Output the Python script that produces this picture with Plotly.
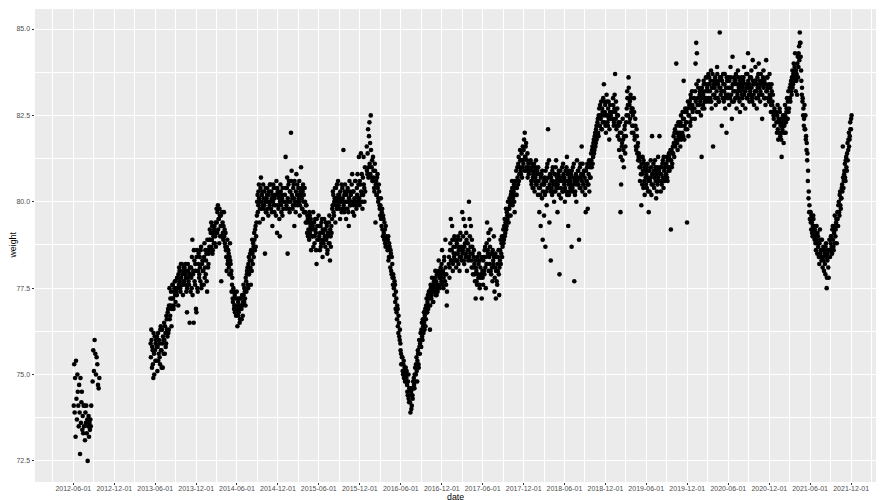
import pandas as pd
import plotly.graph_objects as go

# ---------------- data (weights) ----------------
# each block: start date, spacing in days, weights in kg (one list row ~ one month)
start_2012a, step_2012a = "2012-06-03", 2
w2012a = [74.1, 75.3, 73.9, 74.9, 73.2, 75.4, 74.3, 73.7, 75.0, 74.5,
          74.1, 73.5, 74.7, 73.9, 72.7, 74.9, 73.6, 74.2, 74.5, 73.4,
          73.8, 73.3, 74.1, 73.5, 74.1, 73.1, 73.9, 73.6, 74.1, 73.3,
          73.7, 72.5, 73.5, 73.8, 73.2, 73.6, 73.4, 73.7, 73.5, 74.1]

start_2012b, step_2012b = "2012-08-26", 3
w2012b = [74.8, 75.7, 75.1, 76.0, 75.6, 75.0, 75.5, 75.3, 74.7, 74.6, 74.9]

start_2013, step_2013 = "2013-05-12", 3
w2013 = [75.9, 76.3, 75.2, 75.7, 74.9, 75.6, 76.1, 75.4, 76.0, 75.8,
         75.1, 76.2, 75.6, 75.9, 75.3, 76.4, 75.7, 76.3, 75.2, 76.0,
         76.5, 75.6, 76.2, 75.9, 76.6, 76.1, 76.9, 76.3, 77.5, 76.7,
         77.0, 76.4, 77.2, 77.6, 76.9, 77.4, 77.7, 77.1, 77.5, 77.3,
         77.8, 77.0, 77.6, 78.0, 77.5, 78.2, 77.6, 77.9, 77.3, 78.1,
         77.7, 77.9, 78.2, 77.4, 76.8, 77.8, 78.0, 77.6, 76.5, 77.9,
         78.1, 77.5, 78.9, 77.9, 76.5, 78.3, 77.6, 78.0, 76.8, 78.6,
         77.4, 78.2, 77.8, 78.4, 77.7, 78.7, 77.6, 78.3]
start_2013b = "2013-05-13"
w2013b = [75.5, 76.0, 75.8, 75.3, 76.2, 75.0, 75.7, 75.9, 75.4, 76.1,
          75.8, 75.4, 76.0, 75.5, 76.3, 75.7, 75.2, 75.9, 76.1, 75.6,
          76.0, 76.4, 75.8, 76.7, 76.3, 76.8, 76.2, 77.0, 76.6, 77.2,
          77.4, 76.9, 77.6, 77.2, 77.0, 77.5, 77.3, 77.7, 77.4, 77.8,
          77.5, 77.9, 78.1, 77.7, 77.4, 77.8, 78.2, 77.6, 78.0, 77.7,
          78.1, 77.6, 77.8, 78.0, 77.5, 78.2, 77.7, 77.9, 78.1, 77.4,
          77.8, 78.4, 77.3, 78.0, 78.6, 77.7, 78.2, 76.9, 78.4, 77.5,
          78.0, 78.5, 77.9, 78.1, 78.6, 77.5, 78.2, 78.0]

start_2014, step_2014 = "2014-01-01", 3
w2014 = [78.3, 77.6, 78.8, 78.1, 77.9, 78.5, 77.4, 78.6, 78.2, 78.9,
         79.2, 78.6, 79.4, 78.9, 78.5, 79.1, 78.8, 79.3, 79.0, 78.7,
         79.8, 79.1, 79.9, 79.5, 78.8, 79.6, 79.3, 77.7, 79.0, 79.4,
         78.9, 79.7, 79.2, 78.7, 78.6, 78.0, 78.9, 78.3, 78.5, 77.9,
         78.8, 78.2, 78.0, 77.6, 77.2, 77.5, 76.9, 77.3, 77.0, 76.7,
         77.4, 76.4, 77.1, 76.8, 77.2, 76.6, 77.0, 76.9, 77.3, 76.7,
         77.6, 77.1, 77.4, 77.0, 77.7, 77.9, 78.1, 77.5, 78.4, 78.0,
         78.5, 77.6, 78.3, 78.9, 78.2, 78.7, 79.1, 78.6, 79.3, 79.0,
         79.6, 80.2, 79.9, 80.5, 79.4, 80.0, 80.7, 79.8, 80.3, 79.5,
         80.1, 79.9, 78.5, 80.4, 79.7, 80.2, 80.0, 79.6, 80.3, 79.9,
         80.5, 79.8, 80.1, 79.3, 80.0, 80.4, 79.7, 80.2, 79.9, 80.6,
         79.1, 80.3, 79.8, 80.1, 79.0, 80.5, 79.9, 80.2, 79.6, 80.0]
start_2014b = "2014-01-02"
w2014b = [78.0, 78.4, 77.8, 78.6, 78.3, 77.7, 78.9, 78.1, 78.5, 78.7,
          78.9, 79.1, 78.7, 79.3, 78.6, 79.0, 79.2, 78.8, 79.4, 79.1,
          79.4, 79.7, 79.2, 79.5, 79.8, 79.0, 79.6, 79.3, 79.7, 79.1,
          79.3, 79.0, 78.8, 79.1, 78.4, 78.7, 78.2, 78.6, 78.1, 78.4,
          78.3, 77.9, 77.4, 77.8, 77.1, 77.4, 77.0, 76.8, 77.2, 76.9,
          76.9, 77.2, 76.7, 77.0, 76.5, 76.9, 77.2, 76.6, 77.0, 77.1,
          77.3, 77.5, 77.2, 77.8, 77.4, 78.0, 77.6, 78.2, 77.9, 78.3,
          78.1, 78.6, 78.0, 78.5, 78.8, 78.4, 78.9, 79.2, 78.7, 79.4,
          80.0, 79.7, 80.3, 80.1, 79.8, 80.4, 80.0, 80.2, 79.9, 80.5,
          79.8, 80.3, 80.0, 79.7, 80.1, 80.4, 79.8, 80.2, 80.0, 80.5,
          80.0, 80.3, 79.7, 80.2, 80.5, 79.9, 80.1, 80.4, 79.6, 80.2,
          80.4, 79.9, 80.2, 79.5, 80.0, 80.3, 79.7, 80.1, 80.4, 79.8]

start_2015, step_2015 = "2015-01-01", 3
w2015 = [80.2, 81.3, 79.8, 80.4, 78.5, 80.0, 80.6, 79.7, 80.3, 82.0,
         80.9, 80.1, 79.9, 80.5, 79.3, 80.0, 79.7, 80.8, 80.2, 79.9,
         80.4, 80.0, 79.6, 80.3, 81.0, 80.1, 79.8, 80.5, 80.2, 79.7,
         80.0, 79.4, 79.9, 79.1, 79.5, 79.2, 78.9, 79.6, 79.3, 78.6,
         79.4, 79.0, 79.7, 79.2, 78.8, 79.5, 79.1, 78.2, 79.3, 78.9,
         79.6, 79.0, 78.6, 79.3, 78.8, 79.5, 78.4, 79.1, 78.9, 79.2,
         78.7, 79.4, 79.0, 78.5, 79.1, 78.8, 79.6, 78.3, 79.0, 79.3,
         79.5, 79.9, 80.2, 79.6, 80.1, 79.4, 80.4, 79.8, 80.0, 80.6,
         79.9, 80.2, 79.5, 80.0, 80.5, 79.8, 80.1, 81.5, 79.7, 80.3,
         80.0, 79.5, 80.3, 79.8, 80.0, 79.3, 80.6, 79.9, 80.2, 80.0,
         80.8, 79.7, 80.3, 79.6, 80.0, 80.6, 79.9, 80.4, 80.8, 80.1,
         81.3, 79.9, 80.5, 81.4, 80.2, 80.0, 80.7, 81.3, 80.4, 81.0]
start_2015b = "2015-01-02"
w2015b = [80.0, 80.4, 79.9, 80.7, 80.1, 80.5, 79.8, 80.3, 80.0, 80.6,
          80.2, 79.8, 80.4, 80.1, 80.6, 79.9, 80.3, 80.0, 80.5, 80.2,
          80.1, 80.6, 79.9, 80.2, 80.4, 79.8, 80.3, 80.0, 79.7, 80.4,
          79.7, 79.9, 79.4, 79.6, 79.0, 79.4, 79.7, 79.1, 79.5, 79.2,
          79.0, 79.3, 78.7, 79.4, 79.0, 79.2, 78.6, 79.5, 78.9, 79.3,
          78.9, 79.3, 79.1, 78.7, 79.4, 78.9, 79.2, 78.8, 79.5, 79.0,
          79.2, 78.9, 79.3, 78.6, 79.0, 79.4, 78.8, 79.2, 78.7, 79.1,
          79.8, 80.3, 79.7, 80.0, 80.4, 79.9, 80.1, 80.5, 79.8, 80.2,
          80.1, 79.8, 80.3, 80.0, 79.7, 80.4, 80.0, 79.9, 80.2, 80.5,
          79.8, 80.2, 80.0, 80.4, 79.7, 80.1, 80.3, 79.9, 80.0, 80.5,
          80.0, 80.3, 79.9, 80.1, 80.6, 80.0, 79.8, 80.2, 80.0, 80.5,
          80.1, 80.6, 80.0, 80.3, 80.8, 79.8, 80.2, 80.5, 80.0, 80.3]

start_2016, step_2016 = "2016-01-01", 3
w2016 = [81.6, 80.8, 82.1, 81.0, 82.3, 81.7, 82.5, 80.7, 81.2, 80.6,
         80.9, 80.4, 81.1, 79.4, 80.6, 80.2, 80.8, 80.0, 80.5, 79.9,
         79.6, 80.1, 79.3, 79.8, 79.0, 79.5, 78.9, 79.2, 78.7, 79.0,
         78.9, 78.6, 79.0, 78.4, 78.7, 78.1, 78.5, 77.9, 78.2, 77.6,
         77.8, 77.3, 77.6, 76.9, 77.2, 76.6, 76.9, 76.2, 76.5, 76.0,
         75.9, 75.6, 75.3, 75.5, 75.0, 75.4, 75.1, 74.8, 75.2, 74.9,
         74.7, 74.4, 75.0, 74.2, 74.6, 73.9, 74.5, 74.1, 74.4, 74.8,
         74.9, 74.6, 75.2, 75.0, 75.5, 74.8, 75.7, 75.3, 76.0, 75.6,
         76.2, 75.8, 76.5, 76.0, 76.4, 76.8, 76.3, 76.9, 76.6, 77.2,
         76.8, 77.3, 77.0, 77.4, 76.3, 77.6, 77.2, 77.8, 77.4, 77.1,
         77.7, 77.4, 78.0, 77.6, 77.3, 77.9, 77.5, 78.3, 77.8, 77.6,
         78.1, 77.7, 78.6, 78.0, 77.5, 78.3, 77.9, 78.9, 77.6, 77.0]
start_2016b = "2016-01-02"
w2016b = [80.9, 81.4, 80.7, 81.9, 81.1, 80.8, 81.5, 81.0, 80.6, 81.3,
          80.7, 80.3, 80.9, 80.5, 80.2, 80.7, 80.4, 80.1, 80.3, 79.8,
          79.9, 79.5, 79.7, 79.2, 79.6, 79.1, 79.4, 78.8, 79.3, 78.9,
          78.7, 78.9, 78.3, 78.8, 78.4, 78.6, 78.0, 78.4, 77.8, 77.9,
          77.5, 77.7, 77.1, 77.4, 76.8, 77.0, 76.4, 76.7, 76.1, 76.3,
          75.7, 75.3, 75.5, 75.1, 75.3, 74.9, 75.2, 75.0, 74.8, 75.1,
          74.5, 74.8, 74.3, 74.6, 74.2, 74.4, 74.0, 74.6, 74.3, 74.6,
          74.7, 75.0, 74.8, 75.3, 75.1, 75.4, 75.6, 75.2, 75.8, 75.9,
          76.0, 76.3, 76.1, 76.6, 76.2, 76.5, 76.7, 76.4, 77.0, 76.8,
          77.1, 76.9, 77.4, 77.2, 77.0, 77.5, 77.3, 77.6, 77.1, 77.5,
          77.5, 77.8, 77.3, 77.7, 77.9, 77.4, 77.6, 78.0, 77.5, 77.8,
          77.9, 78.2, 77.6, 78.0, 77.8, 78.4, 77.7, 78.1, 77.9, 77.4]

start_2017, step_2017 = "2017-01-01", 3
w2017 = [78.2, 77.8, 78.6, 79.5, 78.3, 79.3, 78.0, 78.7, 78.4, 78.9,
         78.5, 78.1, 78.8, 78.3, 79.0, 78.6, 78.0, 78.9, 78.4, 78.7,
         79.7, 78.6, 79.5, 78.2, 78.8, 78.4, 79.1, 78.0, 78.6, 78.3,
         80.0, 79.5, 78.5, 79.3, 78.1, 78.7, 77.9, 78.4, 78.2, 77.7,
         77.2, 78.0, 77.6, 78.3, 77.8, 78.5, 77.5, 78.1, 77.9, 77.2,
         78.0, 77.6, 78.4, 77.9, 78.7, 77.5, 78.2, 79.4, 78.6, 79.1,
         78.9, 78.2, 79.2, 77.9, 78.5, 77.7, 78.3, 79.0, 77.4, 78.1,
         77.2, 78.4, 77.6, 78.0, 78.6, 77.3, 78.3, 78.9, 78.5, 79.0,
         78.7, 79.2, 78.9, 79.5, 79.1, 79.8, 79.3, 79.6, 80.0, 79.4,
         79.8, 80.0, 79.6, 80.3, 80.6, 79.9, 80.2, 80.5, 79.7, 80.4,
         80.6, 80.2, 81.0, 80.5, 81.3, 80.8, 81.5, 80.9, 81.2, 80.7,
         81.6, 81.1, 81.8, 82.0, 81.3, 81.7, 80.9, 81.4, 81.0, 80.8]
start_2017b = "2017-01-02"
w2017b = [78.4, 78.1, 78.8, 78.3, 78.6, 78.9, 78.2, 78.5, 79.0, 78.3,
          78.7, 78.3, 78.9, 78.5, 78.2, 78.7, 78.4, 79.1, 78.6, 78.3,
          78.5, 79.0, 78.3, 78.7, 79.3, 78.5, 78.9, 78.4, 78.8, 78.6,
          78.4, 79.0, 78.7, 78.3, 78.9, 78.5, 78.1, 78.6, 77.9, 78.3,
          78.1, 77.7, 78.4, 77.9, 78.2, 77.6, 78.3, 77.8, 78.4, 77.9,
          77.8, 78.3, 78.0, 78.6, 78.1, 78.4, 78.8, 78.2, 78.5, 78.0,
          78.4, 78.7, 78.0, 78.5, 78.1, 78.6, 78.2, 78.4, 77.8, 78.5,
          78.0, 77.7, 78.2, 78.4, 77.9, 78.1, 78.6, 78.2, 78.8, 78.4,
          79.0, 78.8, 79.3, 79.0, 79.4, 79.2, 79.7, 79.5, 79.8, 79.6,
          80.1, 79.9, 80.2, 80.0, 80.4, 80.1, 80.3, 80.0, 80.6, 80.2,
          80.9, 80.4, 80.7, 81.1, 80.6, 81.0, 81.2, 80.8, 81.4, 81.0,
          81.2, 81.5, 80.9, 81.3, 81.6, 81.0, 81.2, 80.7, 81.1, 80.9]

start_2018, step_2018 = "2018-01-01", 3
w2018 = [81.2, 80.6, 81.0, 80.4, 80.8, 81.1, 80.3, 80.7, 81.2, 80.5,
         80.9, 80.2, 80.6, 79.7, 80.4, 79.3, 80.8, 80.1, 78.9, 80.5,
         79.6, 80.7, 78.7, 80.3, 79.9, 81.1, 82.1, 80.4, 79.4, 80.8,
         78.3, 80.6, 80.2, 81.0, 80.5, 80.0, 80.8, 80.3, 81.2, 80.6,
         79.7, 80.4, 80.9, 77.9, 80.7, 80.1, 80.6, 81.0, 80.3, 80.8,
         80.5, 80.0, 80.9, 80.3, 81.3, 80.6, 79.3, 80.2, 80.7, 80.4,
         80.8, 78.7, 80.3, 81.0, 80.5, 77.7, 80.2, 80.7, 80.0, 81.2,
         80.6, 80.9, 78.9, 80.4, 81.1, 80.7, 81.6, 80.3, 80.8, 80.5,
         80.9, 80.2, 79.7, 80.6, 81.0, 79.8, 80.5, 81.2, 80.7, 81.1,
         81.4, 81.0, 81.6, 81.3, 81.8, 81.5, 82.0, 81.7, 82.2, 81.9,
         82.4, 81.9, 82.7, 82.2, 82.5, 82.9, 82.1, 82.6, 83.0, 83.4,
         82.3, 82.8, 82.0, 83.1, 82.5, 82.2, 82.9, 81.8, 82.6, 82.4]
start_2018b = "2018-01-02"
w2018b = [80.9, 80.5, 81.1, 80.7, 80.4, 80.9, 80.6, 81.0, 80.5, 80.8,
          80.6, 81.0, 80.4, 80.8, 80.2, 80.7, 80.5, 80.9, 80.3, 80.6,
          80.5, 80.2, 80.9, 80.6, 81.0, 80.4, 80.7, 81.2, 80.5, 80.3,
          80.7, 80.4, 80.9, 80.6, 80.3, 80.8, 80.5, 81.0, 80.4, 80.7,
          80.5, 80.8, 80.2, 80.6, 80.9, 80.4, 80.7, 80.3, 81.1, 80.6,
          80.7, 80.4, 80.6, 81.0, 80.2, 80.8, 80.5, 80.9, 80.3, 80.6,
          80.5, 80.9, 80.4, 80.7, 81.1, 80.6, 80.3, 80.8, 80.5, 80.7,
          80.9, 80.5, 80.7, 81.0, 80.4, 80.8, 80.6, 81.1, 80.5, 80.9,
          80.7, 80.4, 80.9, 80.6, 81.1, 80.5, 80.8, 80.3, 81.0, 80.7,
          81.2, 81.5, 81.1, 81.7, 81.4, 81.9, 81.6, 82.1, 81.8, 82.3,
          82.0, 82.5, 82.2, 82.8, 82.4, 82.1, 82.7, 82.3, 82.5, 82.9,
          82.6, 82.2, 82.5, 82.9, 82.3, 82.7, 82.4, 82.1, 82.8, 82.5]

start_2019, step_2019 = "2019-01-01", 3
w2019 = [82.6, 83.0, 82.2, 82.7, 83.7, 82.4, 82.1, 82.5, 81.9, 82.3,
         81.5, 82.0, 79.7, 80.5, 81.6, 81.2, 81.8, 81.0, 82.1, 81.4,
         81.9, 82.5, 83.2, 82.8, 83.6, 82.3, 82.9, 83.1, 82.6, 82.0,
         82.7, 82.2, 83.0, 81.8, 82.4, 81.6, 82.1, 81.4, 81.7, 81.3,
         81.2, 80.6, 81.0, 79.9, 80.8, 81.3, 80.4, 81.1, 80.2, 80.9,
         80.5, 81.0, 80.7, 80.3, 79.7, 80.9, 80.6, 81.2, 80.2, 81.9,
         80.8, 81.1, 80.4, 80.7, 81.0, 80.1, 80.9, 80.5, 81.3, 80.6,
         81.9, 80.8, 80.3, 81.0, 80.6, 81.2, 80.4, 80.9, 80.7, 81.1,
         80.8, 81.3, 80.6, 81.0, 81.4, 80.9, 81.2, 79.2, 81.5, 81.1,
         81.6, 81.9, 81.3, 82.1, 81.7, 84.0, 82.0, 81.5, 82.3, 81.8,
         82.2, 81.6, 82.5, 81.9, 82.0, 82.4, 83.5, 81.8, 82.6, 82.1,
         82.3, 79.4, 82.7, 81.9, 82.5, 82.9, 82.2, 83.0, 82.4, 82.8]
start_2019b = "2019-01-02"
w2019b = [82.4, 82.8, 82.3, 83.1, 82.6, 82.9, 82.2, 82.7, 82.5, 82.2,
          81.8, 82.3, 81.3, 82.0, 81.7, 82.4, 81.5, 81.9, 82.2, 81.6,
          82.3, 82.7, 83.0, 82.5, 83.3, 82.8, 82.4, 83.0, 82.7, 82.2,
          82.5, 82.0, 82.6, 81.9, 82.2, 81.5, 81.9, 81.6, 81.2, 81.4,
          81.0, 81.3, 80.8, 81.1, 80.5, 80.9, 81.2, 80.6, 81.0, 80.7,
          80.8, 80.4, 81.1, 80.6, 80.9, 80.3, 80.7, 81.0, 80.5, 80.8,
          80.5, 80.9, 80.7, 81.2, 80.6, 80.8, 80.3, 81.0, 80.7, 80.9,
          80.6, 81.0, 80.8, 80.5, 81.1, 80.7, 81.3, 80.6, 81.0, 80.8,
          81.1, 80.7, 81.2, 80.9, 81.3, 81.0, 81.5, 81.2, 81.0, 81.4,
          81.4, 81.7, 82.0, 81.6, 81.8, 82.2, 81.7, 82.0, 81.9, 82.3,
          82.0, 82.3, 81.8, 82.2, 82.6, 81.9, 82.4, 82.2, 82.7, 82.3,
          82.6, 82.1, 82.9, 82.5, 82.8, 82.3, 83.1, 82.7, 83.2, 82.6]

start_2020, step_2020 = "2020-01-01", 3
w2020 = [83.0, 82.4, 84.0, 84.6, 84.3, 82.8, 83.3, 82.6, 83.1, 82.9,
         82.5, 81.3, 83.2, 82.8, 83.5, 82.7, 83.0, 83.4, 82.9, 83.6,
         83.2, 83.7, 82.9, 83.4, 83.0, 83.8, 82.7, 83.3, 81.6, 83.5,
         83.1, 83.6, 82.8, 83.4, 83.9, 83.0, 83.5, 82.9, 84.9, 83.3,
         83.6, 82.2, 83.2, 83.7, 82.9, 83.4, 82.7, 83.1, 82.0, 83.5,
         83.0, 83.6, 82.8, 83.3, 83.9, 83.1, 82.4, 84.2, 83.4, 82.9,
         83.5, 83.0, 83.7, 82.7, 83.2, 83.8, 83.0, 83.4, 82.6, 83.3,
         83.6, 83.1, 82.8, 83.5, 83.9, 83.2, 82.7, 83.4, 83.0, 83.7,
         84.3, 83.3, 82.9, 83.6, 83.1, 83.8, 83.0, 84.1, 83.4, 82.8,
         83.5, 83.9, 83.2, 82.7, 83.6, 83.0, 84.0, 83.3, 82.9, 83.7,
         83.1, 82.4, 83.5, 83.8, 83.0, 83.4, 82.8, 84.1, 83.2, 83.6,
         83.3, 82.9, 83.7, 83.0, 82.6, 83.4, 82.8, 83.1, 82.5, 82.2]
start_2020b = "2020-01-02"
w2020b = [82.7, 83.2, 82.9, 83.4, 82.6, 83.0, 83.5, 82.8, 83.2, 83.0,
          83.0, 83.3, 82.7, 83.1, 83.4, 82.9, 83.2, 83.6, 83.0, 83.3,
          83.4, 83.0, 83.6, 83.2, 83.5, 82.9, 83.3, 83.7, 83.1, 83.4,
          83.3, 83.0, 83.5, 83.2, 83.7, 83.4, 82.9, 83.3, 83.6, 83.1,
          83.2, 83.5, 83.0, 83.4, 83.2, 83.7, 83.0, 83.3, 83.6, 83.1,
          83.3, 83.1, 83.5, 83.0, 83.6, 83.3, 82.9, 83.4, 83.2, 83.6,
          83.2, 83.5, 83.0, 83.4, 83.1, 83.6, 83.3, 82.9, 83.5, 83.2,
          83.4, 83.0, 83.3, 83.6, 83.1, 83.4, 83.2, 83.7, 83.3, 83.0,
          83.5, 83.1, 83.4, 83.2, 83.6, 83.3, 82.9, 83.5, 83.1, 83.4,
          83.2, 83.5, 83.0, 83.4, 83.3, 83.7, 83.1, 83.5, 83.2, 83.4,
          83.4, 83.1, 83.6, 83.3, 83.5, 83.0, 83.4, 83.2, 83.6, 83.3,
          83.0, 83.4, 83.1, 83.3, 82.8, 83.2, 82.9, 82.6, 82.4, 82.7]

start_2021, step_2021 = "2021-01-01", 3
w2021 = [82.6, 82.0, 82.8, 81.8, 82.3, 82.7, 81.9, 82.4, 81.3, 82.1,
         82.5, 81.7, 82.2, 82.8, 82.0, 82.6, 83.0, 82.4, 83.2, 82.7,
         83.3, 82.9, 83.5, 83.1, 83.8, 83.4, 84.0, 83.6, 84.3, 83.2,
         83.5, 83.1, 84.2, 83.9, 84.5, 84.9, 84.6, 83.8, 83.1, 82.9,
         82.5, 82.2, 82.8, 82.1, 81.8, 81.5, 81.2, 80.6, 80.1, 79.7,
         79.5, 79.7, 79.2, 79.4, 79.0, 79.6, 79.3, 78.9, 79.1, 78.6,
         79.3, 78.5, 79.0, 78.8, 78.2, 79.2, 78.6, 78.4, 78.9, 78.1,
         78.7, 78.0, 78.5, 77.9, 78.8, 77.5, 78.3, 78.6, 77.8, 78.9,
         78.4, 78.8, 79.0, 78.5, 79.3, 78.7, 79.1, 79.6, 79.0, 79.4,
         78.8, 79.7, 79.3, 80.0, 79.6, 80.3, 79.8, 80.1, 80.5, 81.6,
         80.4, 80.8, 81.1, 80.6, 81.3, 80.9, 81.7, 81.5, 82.0, 81.8,
         82.3, 82.1, 82.5]
start_2021b = "2021-01-02"
w2021b = [82.3, 82.5, 82.1, 82.4, 82.0, 82.6, 82.2, 81.8, 82.3, 82.0,
          82.2, 82.4, 82.0, 82.5, 82.3, 82.7, 82.4, 82.9, 82.6, 83.0,
          83.0, 83.4, 83.2, 83.6, 83.3, 83.7, 83.5, 83.9, 83.6, 83.8,
          83.7, 84.0, 83.6, 84.3, 84.1, 84.6, 84.2, 83.5, 83.3, 83.0,
          82.7, 82.4, 82.1, 82.5, 81.9, 81.7, 81.4, 80.9, 80.3, 79.9,
          79.7, 79.4, 79.6, 79.1, 79.3, 79.5, 79.0, 79.2, 78.8, 79.0,
          78.9, 79.1, 78.7, 78.4, 78.8, 78.5, 78.9, 78.3, 78.6, 78.4,
          78.3, 78.6, 78.2, 78.7, 78.4, 77.8, 78.5, 78.1, 78.4, 78.6,
          78.6, 79.0, 78.7, 79.2, 78.9, 78.6, 79.3, 78.8, 79.2, 79.5,
          79.3, 79.5, 79.9, 79.7, 80.2, 79.9, 80.1, 80.4, 80.3, 80.7,
          80.6, 80.9, 80.7, 81.2, 81.0, 81.4, 81.2, 81.8, 81.6, 81.9,
          82.1, 82.4]

# axis breaks
x_tick_labels = ["2012-06-01", "2012-12-01", "2013-06-01", "2013-12-01",
                 "2014-06-01", "2014-12-01", "2015-06-01", "2015-12-01",
                 "2016-06-01", "2016-12-01", "2017-06-01", "2017-12-01",
                 "2018-06-01", "2018-12-01", "2019-06-01", "2019-12-01",
                 "2020-06-01", "2020-12-01", "2021-06-01", "2021-12-01"]
y_ticks = [72.5, 75.0, 77.5, 80.0, 82.5, 85.0]
y_tick_labels = ["72.5", "75.0", "77.5", "80.0", "82.5", "85.0"]
y_minor = [73.75, 76.25, 78.75, 81.25, 83.75]
x_range = ["2011-12-13", "2022-03-22"]
y_range = [71.89, 85.58]

# ---------------- build ----------------
blocks = [
    (start_2012a, step_2012a, w2012a), (start_2012b, step_2012b, w2012b),
    (start_2013, step_2013, w2013), (start_2013b, step_2013, w2013b),
    (start_2014, step_2014, w2014), (start_2014b, step_2014, w2014b),
    (start_2015, step_2015, w2015), (start_2015b, step_2015, w2015b),
    (start_2016, step_2016, w2016), (start_2016b, step_2016, w2016b),
    (start_2017, step_2017, w2017), (start_2017b, step_2017, w2017b),
    (start_2018, step_2018, w2018), (start_2018b, step_2018, w2018b),
    (start_2019, step_2019, w2019), (start_2019b, step_2019, w2019b),
    (start_2020, step_2020, w2020), (start_2020b, step_2020, w2020b),
    (start_2021, step_2021, w2021), (start_2021b, step_2021, w2021b),
]
dates, weights = [], []
for start, step, vals in blocks:
    dates.extend(pd.date_range(start, periods=len(vals), freq=f"{step}D"))
    weights.extend(vals)

major = pd.to_datetime(x_tick_labels)
mids = [major[i] + (major[i + 1] - major[i]) / 2 for i in range(len(major) - 1)]
x_minor = [major[0] - (major[1] - major[0]) / 2] + mids + [major[-1] + (major[-1] - major[-2]) / 2]

FONT = "Liberation Sans, Arial, Helvetica, sans-serif"

fig = go.Figure()
fig.add_trace(go.Scatter(
    x=dates, y=weights, mode="markers",
    marker=dict(color="black", size=4.6, line=dict(width=0)),
    hoverinfo="x+y", showlegend=False,
))

fig.update_layout(
    width=881, height=500,
    margin=dict(l=35, r=5, t=9, b=18),
    paper_bgcolor="white", plot_bgcolor="#EBEBEB",
    font=dict(family=FONT, color="#4D4D4D", size=7),
    xaxis=dict(
        type="date", range=x_range, automargin=False,
        tickmode="array", tickvals=major, ticktext=x_tick_labels,
        ticks="outside", ticklen=2, tickwidth=1, tickcolor="#333333",
        ticklabelstandoff=-2,
        tickfont=dict(size=7, color="#4D4D4D", family=FONT),
        showgrid=True, gridcolor="white", gridwidth=1,
        minor=dict(tickvals=x_minor, showgrid=True, gridcolor="white", gridwidth=0.5, ticks=""),
        zeroline=False, showline=False,
    ),
    yaxis=dict(
        range=y_range, automargin=False,
        tickmode="array", tickvals=y_ticks, ticktext=y_tick_labels,
        ticks="outside", ticklen=2.5, tickwidth=1, tickcolor="#333333",
        tickfont=dict(size=7, color="#4D4D4D", family=FONT),
        showgrid=True, gridcolor="white", gridwidth=1,
        minor=dict(tickvals=y_minor, showgrid=True, gridcolor="white", gridwidth=0.5, ticks=""),
        zeroline=False, showline=False,
    ),
    annotations=[
        dict(text="weight", xref="paper", yref="paper", x=0, y=0.5,
             xanchor="center", yanchor="middle", xshift=-23, textangle=-90,
             showarrow=False, font=dict(size=8.8, color="black", family=FONT)),
        dict(text="date", xref="paper", yref="paper", x=0.5, y=0,
             xanchor="center", yanchor="middle", yshift=-15,
             showarrow=False, font=dict(size=8.8, color="black", family=FONT)),
    ],
)

fig.write_html(
    "out.html",
    config={"displayModeBar": False},
    post_script="document.body.style.margin='0';document.body.style.overflow='hidden';",
)
